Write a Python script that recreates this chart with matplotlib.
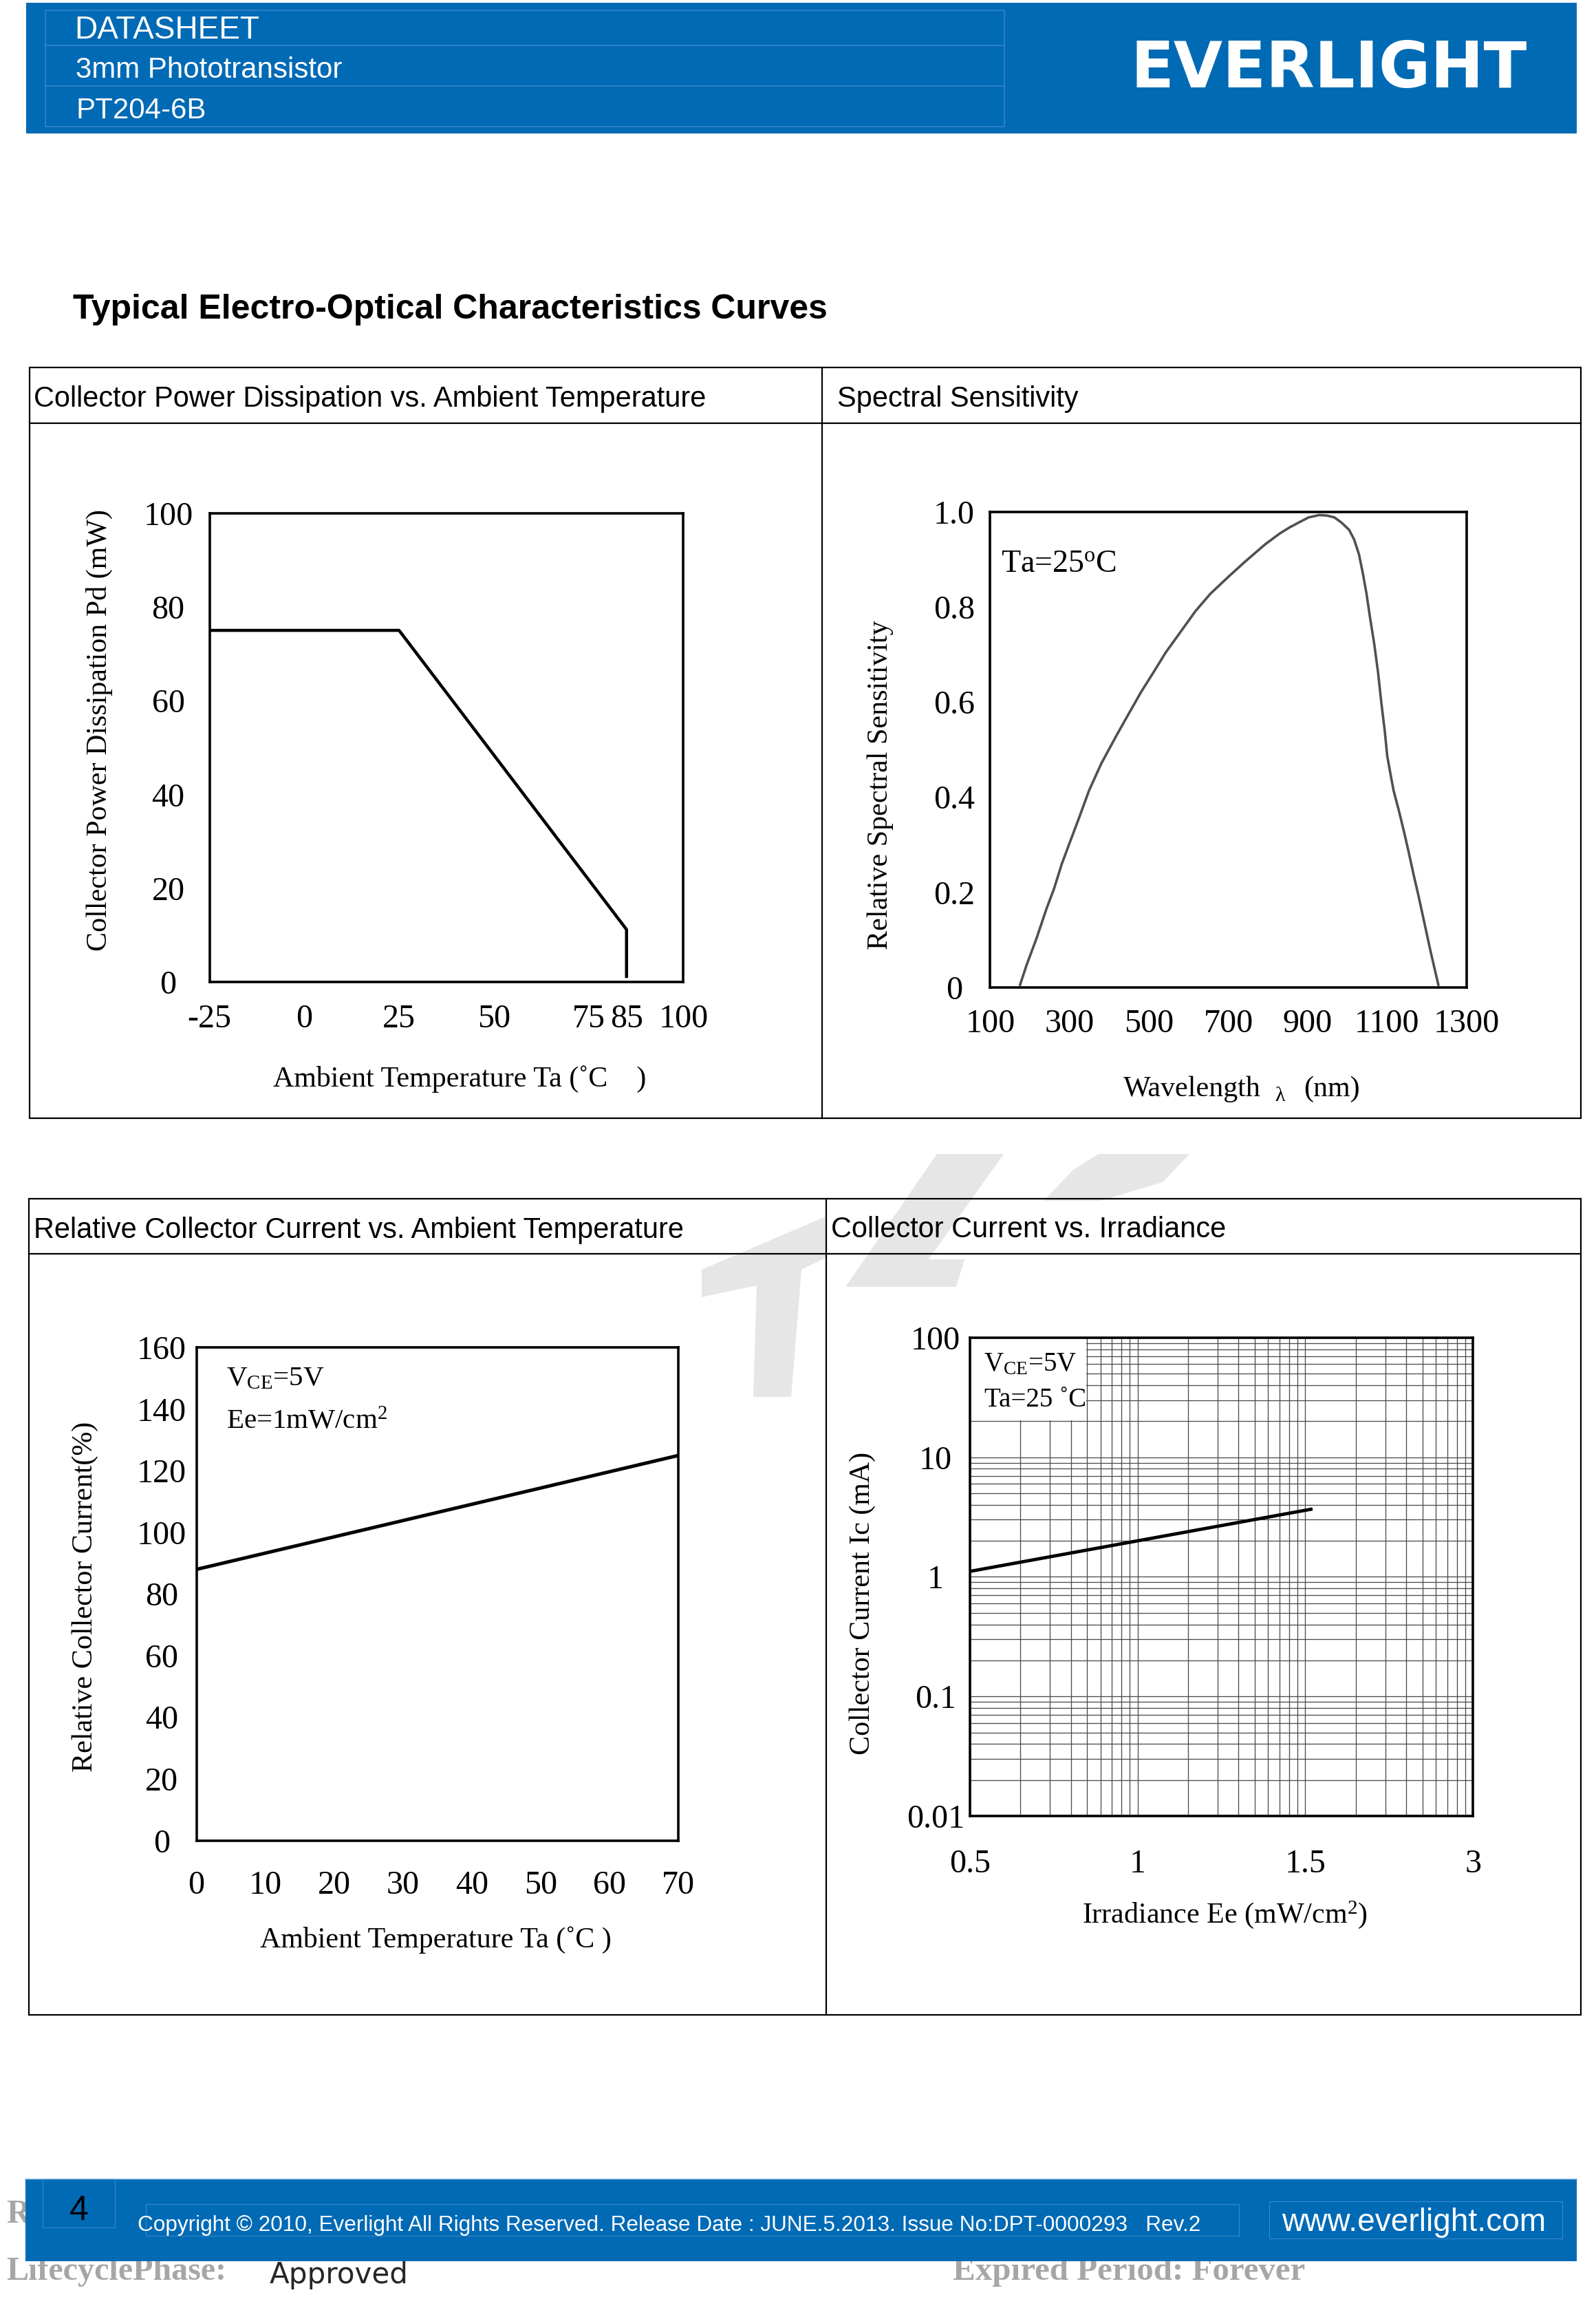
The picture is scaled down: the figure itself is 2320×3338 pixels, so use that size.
import numpy as np
import matplotlib
matplotlib.use('Agg')
import matplotlib.pyplot as plt
from matplotlib.patches import Rectangle, Polygon
from matplotlib.lines import Line2D
from matplotlib.ticker import FixedLocator, NullFormatter, LogLocator

# ---------------- data ----------------
# Panel 1: Collector Power Dissipation vs. Ambient Temperature
p1_temp = [-25, 25, 85, 85]
p1_pd = [75, 75, 11.2, 1.2]
p1_xticks = [-25, 0, 25, 50, 75, 85, 100]
p1_xticklabels = ['-25', '0', '25', '50', '75', '85', '100']
p1_xgrid = [0, 25, 50, 75]
p1_yticks = [0, 20, 40, 60, 80, 100]
p1_ygrid = [20, 40, 60, 80]

# Panel 2: Spectral Sensitivity
p2_wavelength = [175, 192, 217, 242, 261, 280, 301, 324, 349, 380, 417, 448, 480,
                 511, 542, 580, 617, 654, 701, 742, 792, 829, 854, 879, 902, 929,
                 948, 967, 985, 1004, 1017, 1029, 1039, 1048, 1057, 1067, 1077,
                 1085, 1094, 1100, 1108, 1116, 1129, 1141, 1154, 1166, 1179, 1191,
                 1210, 1229]
p2_rel = [0.005, 0.048, 0.104, 0.166, 0.208, 0.259, 0.306, 0.357, 0.414, 0.471,
          0.528, 0.574, 0.621, 0.662, 0.704, 0.748, 0.791, 0.827, 0.864, 0.895,
          0.931, 0.954, 0.967, 0.978, 0.988, 0.993, 0.992, 0.988, 0.977, 0.962,
          0.941, 0.910, 0.869, 0.827, 0.776, 0.724, 0.662, 0.600, 0.538, 0.487,
          0.450, 0.414, 0.373, 0.332, 0.285, 0.239, 0.192, 0.146, 0.073, 0.005]
p2_xticks = [100, 300, 500, 700, 900, 1100, 1300]
p2_xgrid = [300, 500, 700, 900, 1100]
p2_yticks = [0, 0.2, 0.4, 0.6, 0.8, 1.0]
p2_yticklabels = ['0', '0.2', '0.4', '0.6', '0.8', '1.0']
p2_ygrid = [0.2, 0.4, 0.6, 0.8]

# Panel 3: Relative Collector Current vs. Ambient Temperature
p3_temp = [0, 70]
p3_rel = [88, 125]
p3_xticks = [0, 10, 20, 30, 40, 50, 60, 70]
p3_yticks = [0, 20, 40, 60, 80, 100, 120, 140, 160]

# Panel 4: Collector Current vs. Irradiance
p4_ee = [0.5, 1.55]
p4_ic = [1.11, 3.67]
p4_xticks = [0.5, 1, 1.5, 3]
p4_xticklabels = ['0.5', '1', '1.5', '3']
p4_yticks = [0.01, 0.1, 1, 10, 100]
p4_yticklabels = ['0.01', '0.1', '1', '10', '100']

# ---------------- setup ----------------
W, H, DPI = 2320, 3338, 100
plt.rcParams['font.family'] = ['Liberation Serif', 'DejaVu Serif']
plt.rcParams['mathtext.fontset'] = 'custom'
plt.rcParams['mathtext.rm'] = 'Liberation Serif'
plt.rcParams['mathtext.it'] = 'Liberation Serif:italic'
plt.rcParams['mathtext.bf'] = 'Liberation Serif:bold'

BLUE = '#006ab5'
LBLUE = '#3a86c8'
GRAY = '#a6a6a6'
WM = '#e6e6e6'


def pt(px):
    return px * 72.0 / DPI


fig = plt.figure(figsize=(W / DPI, H / DPI), dpi=DPI)
fig.patch.set_facecolor('white')


def fx(x):
    return x / W


def fy(y):
    return 1 - y / H


def rect(x0, y0, x1, y1, fc='none', ec='none', lw=1.0, z=1):
    r = Rectangle((fx(x0), fy(y1)), (x1 - x0) / W, (y1 - y0) / H,
                  transform=fig.transFigure, facecolor=fc, edgecolor=ec,
                  linewidth=lw, zorder=z)
    fig.add_artist(r)


def poly(pts, fc, z=0.5):
    fig.add_artist(Polygon([(fx(x), fy(y)) for x, y in pts], closed=True,
                           transform=fig.transFigure, facecolor=fc,
                           edgecolor='none', zorder=z))


def hline(x0, x1, y, color='black', lw=2.0, z=2):
    fig.add_artist(Line2D([fx(x0), fx(x1)], [fy(y), fy(y)], transform=fig.transFigure,
                          color=color, lw=lw, zorder=z))


def vline(x, y0, y1, color='black', lw=2.0, z=2):
    fig.add_artist(Line2D([fx(x), fx(x)], [fy(y0), fy(y1)], transform=fig.transFigure,
                          color=color, lw=lw, zorder=z))


def ftext(x, y, s, px, **kw):
    return fig.text(fx(x), fy(y), s, fontsize=pt(px), **kw)


def add_axes_px(l, r, t, b):
    return fig.add_axes([l / W, 1 - b / H, (r - l) / W, (b - t) / H])


SANS = ['Liberation Sans', 'DejaVu Sans']
TICK_PX = 48
LABEL_PX = 42
GRID_KW = dict(color='#7a7a7a', lw=pt(1.3))

# ---------------- faint background watermark ----------------
poly([(1020, 1885), (1020, 1845), (1200, 1768), (1200, 1828), (1165, 1845),
      (1150, 2030), (1095, 2030), (1100, 1868)], WM)
poly([(1362, 1677), (1459, 1677), (1350, 1830), (1402, 1830), (1390, 1870),
      (1229, 1870)], WM)
poly([(1597, 1677), (1729, 1677), (1690, 1718), (1600, 1745), (1517, 1745),
      (1560, 1700)], WM)

# ---------------- header ----------------
rect(38, 4, 2292, 194, fc=BLUE, z=1)
rect(66, 15, 1460, 184, ec=LBLUE, lw=pt(1.5), z=2)
hline(66, 1460, 66, color=LBLUE, lw=pt(1.5))
hline(66, 1460, 125, color=LBLUE, lw=pt(1.5))
ftext(108, 55.5, 'DATASHEET', 46, color='white', family=SANS, va='baseline', ha='left')
ftext(110, 112.8, '3mm Phototransistor', 42, color='white', family=SANS, va='baseline', ha='left')
ftext(110, 172.4, 'PT204-6B', 42, color='white', family=SANS, va='baseline', ha='left')
ftext(1643, 127.3, 'EVERLIGHT', 92, color='white', family=['DejaVu Sans'],
      fontweight='bold', va='baseline', ha='left')

# ---------------- main title ----------------
ftext(106, 463, 'Typical Electro-Optical Characteristics Curves', 50, color='black',
      family=SANS, fontweight='bold', va='baseline', ha='left')

# ---------------- panel frames ----------------
FR = pt(2.2)
rect(42.9, 534.3, 2297.7, 1625, ec='black', lw=FR, z=2)
hline(42.9, 2297.7, 615, lw=FR)
vline(1194.5, 534.3, 1625, lw=FR)
rect(42.4, 1741.6, 2297.7, 2927.6, ec='black', lw=FR, z=2)
hline(42.4, 2297.7, 1821.8, lw=FR)
vline(1200.8, 1741.6, 2927.6, lw=FR)

TITLE_PX = 41.5
ftext(49, 591.4, 'Collector Power Dissipation vs. Ambient Temperature', TITLE_PX, family=SANS,
      va='baseline', ha='left')
ftext(1217, 591.4, 'Spectral Sensitivity', TITLE_PX, family=SANS, va='baseline', ha='left')
ftext(48.6, 1799.4, 'Relative Collector Current vs. Ambient Temperature', TITLE_PX, family=SANS,
      va='baseline', ha='left')
ftext(1208, 1798, 'Collector Current vs. Irradiance', TITLE_PX, family=SANS, va='baseline', ha='left')


def style_axes(ax, xpad, ypad):
    for s in ax.spines.values():
        s.set_linewidth(pt(3.6))
        s.set_color('black')
        s.set_zorder(4)
    ax.tick_params(which='both', length=0)
    ax.tick_params(axis='x', pad=pt(xpad), labelsize=pt(TICK_PX))
    ax.tick_params(axis='y', pad=pt(ypad), labelsize=pt(TICK_PX))
    for lab in ax.get_yticklabels():
        lab.set_horizontalalignment('center')


# ---------------- panel 1 ----------------
ax1 = add_axes_px(304.6, 993.4, 745.7, 1427.1)
ax1.plot(p1_temp, p1_pd, color='black', lw=pt(4.5), zorder=3)
ax1.set_xlim(-25, 100)
ax1.set_ylim(0, 100)
ax1.set_xticks(p1_xticks, labels=p1_xticklabels)
ax1.set_yticks(p1_yticks)
ax1.xaxis.set_minor_locator(FixedLocator(p1_xgrid))
ax1.yaxis.set_minor_locator(FixedLocator(p1_ygrid))
ax1.grid(False, which='major')
ax1.grid(True, which='minor', **GRID_KW)
style_axes(ax1, 32, 60)
ftext(144, 1061, 'Collector Power Dissipation Pd (mW)', LABEL_PX, rotation=90,
      ha='center', va='center')
ftext(668, 1568.6, 'Ambient Temperature Ta (˚C    )', LABEL_PX, ha='center', va='center')

# ---------------- panel 2 ----------------
ax2 = add_axes_px(1439.4, 2131.9, 743.6, 1435)
ax2.plot(p2_wavelength, p2_rel, color='#505050', lw=pt(3.6), zorder=3,
         solid_joinstyle='round', solid_capstyle='round')
ax2.set_xlim(100, 1300)
ax2.set_ylim(0, 1.0)
ax2.set_xticks(p2_xticks)
ax2.set_yticks(p2_yticks, labels=p2_yticklabels)
ax2.xaxis.set_minor_locator(FixedLocator(p2_xgrid))
ax2.yaxis.set_minor_locator(FixedLocator(p2_ygrid))
ax2.grid(False, which='major')
ax2.grid(True, which='minor', **GRID_KW)
ax2.add_patch(Rectangle((0, 0.803), 0.30, 0.197, transform=ax2.transAxes,
                        facecolor='white', edgecolor='none', zorder=1.8))
ax2.text(0.022, 0.8895, 'Ta=25$^{\\mathrm{o}}$C', transform=ax2.transAxes,
         fontsize=pt(46), ha='left', va='center', zorder=3)
style_axes(ax2, 31, 52.7)
ftext(1280, 1141, 'Relative Spectral Sensitivity', LABEL_PX, rotation=90, ha='center', va='center')
ftext(1633, 1593, 'Wavelength', LABEL_PX, ha='left', va='baseline')
ftext(1860, 1600, 'λ', 30, ha='center', va='baseline')
ftext(1895, 1593, '(nm)', LABEL_PX, ha='left', va='baseline')

# ---------------- panel 3 ----------------
ax3 = add_axes_px(285.5, 986.2, 1958.4, 2674.5)
ax3.plot(p3_temp, p3_rel, color='black', lw=pt(5.0), zorder=3)
ax3.set_xlim(0, 70)
ax3.set_ylim(0, 160)
ax3.set_xticks(p3_xticks)
ax3.set_yticks(p3_yticks)
ax3.xaxis.set_minor_locator(FixedLocator(p3_xticks[1:-1]))
ax3.yaxis.set_minor_locator(FixedLocator(p3_yticks[1:-1]))
ax3.grid(False, which='major')
ax3.grid(True, which='minor', **GRID_KW)
ax3.add_patch(Rectangle((0, 0.7525), 0.4265, 0.2475, transform=ax3.transAxes,
                        facecolor='white', edgecolor='none', zorder=1.8))
ax3.text(0.062, 0.936, 'V$_{\\mathrm{CE}}$=5V', transform=ax3.transAxes,
         fontsize=pt(41), ha='left', va='center', zorder=3)
ax3.text(0.062, 0.85, 'Ee=1mW/cm$^{2}$', transform=ax3.transAxes,
         fontsize=pt(41), ha='left', va='center', zorder=3)
style_axes(ax3, 43, 50.5)
ftext(123.5, 2320, 'Relative Collector Current(%)', LABEL_PX, rotation=90, ha='center', va='center')
ftext(633, 2819.6, 'Ambient Temperature Ta (˚C )', LABEL_PX, ha='center', va='center')

# ---------------- panel 4 ----------------
ax4 = add_axes_px(1409.8, 2141.3, 1943.8, 2639)
_dec = [0, 1, 2, 3]


def _fwd(x):
    return np.interp(np.asarray(x, dtype=float), p4_xticks, _dec)


def _inv(d):
    return np.interp(np.asarray(d, dtype=float), _dec, p4_xticks)


ax4.set_xscale('function', functions=(_fwd, _inv))
ax4.set_yscale('log')
ax4.set_xlim(0.5, 3)
ax4.set_ylim(0.01, 100)
ax4.plot(p4_ee, p4_ic, color='black', lw=pt(4.8), zorder=3)
ax4.set_xticks(p4_xticks, labels=p4_xticklabels)
ax4.set_yticks(p4_yticks, labels=p4_yticklabels)
_minor_dec = [d + np.log10(k) for d in range(3) for k in range(2, 10)]
ax4.xaxis.set_minor_locator(FixedLocator(list(_inv(_minor_dec))))
ax4.xaxis.set_minor_formatter(NullFormatter())
ax4.yaxis.set_minor_locator(LogLocator(base=10, subs=np.arange(2, 10), numticks=100))
ax4.yaxis.set_minor_formatter(NullFormatter())
ax4.grid(True, which='both', color='#4a4a4a', lw=pt(1.3))
ax4.add_patch(Rectangle((0, 0.8265), 0.2315, 0.1735, transform=ax4.transAxes,
                        facecolor='white', edgecolor='none', zorder=1.8))
ax4.text(0.027, 0.944, 'V$_{\\mathrm{CE}}$=5V', transform=ax4.transAxes,
         fontsize=pt(39), ha='left', va='center', zorder=3)
ax4.text(0.029, 0.869, 'Ta=25 ˚C', transform=ax4.transAxes,
         fontsize=pt(39), ha='left', va='center', zorder=3)
style_axes(ax4, 48, 50)
ftext(1253.4, 2330, 'Collector Current Ic (mA)', LABEL_PX, rotation=90, ha='center', va='center')
ftext(1780, 2783, 'Irradiance Ee (mW/cm$^{2}$)', LABEL_PX, ha='center', va='center')

# ---------------- footer ----------------
SERIF_B = dict(family=['Liberation Serif'], fontweight='bold', color=GRAY)
ftext(9, 3230, 'R', 48, ha='left', va='baseline', zorder=0.5, **SERIF_B)
ftext(9, 3313.3, 'LifecyclePhase:', 48, ha='left', va='baseline', zorder=0.5, **SERIF_B)
ftext(1384.6, 3313.3, 'Expired Period: Forever', 49, ha='left', va='baseline', zorder=0.5, **SERIF_B)
ftext(392, 3318.3, 'Approved', 42, family=['DejaVu Sans'], color='#262626',
      ha='left', va='baseline', zorder=0.5)

rect(36.6, 3167, 2292, 3286, fc=BLUE, z=1)
hline(36.6, 2292, 3167, color='#5b9bd5', lw=pt(1.5))
rect(62.5, 3167, 167.4, 3237, ec=LBLUE, lw=pt(1.2), z=2)
ftext(115, 3226, '4', 50, family=SANS, color='black', ha='center', va='baseline')
rect(212, 3203, 1801, 3249, ec=LBLUE, lw=pt(1.2), z=2)
ftext(199.5, 3241.7, 'Copyright © 2010, Everlight All Rights Reserved. Release Date : JUNE.5.2013. '
      'Issue No:DPT-0000293   Rev.2', 31.5, family=SANS, color='white', ha='left', va='baseline')
rect(1845, 3199, 2270.7, 3252.7, ec=LBLUE, lw=pt(1.2), z=2)
ftext(1862.8, 3241.7, 'www.everlight.com', 46, family=SANS, color='white', ha='left', va='baseline')

fig.savefig('out.png', dpi=DPI, facecolor='white')
